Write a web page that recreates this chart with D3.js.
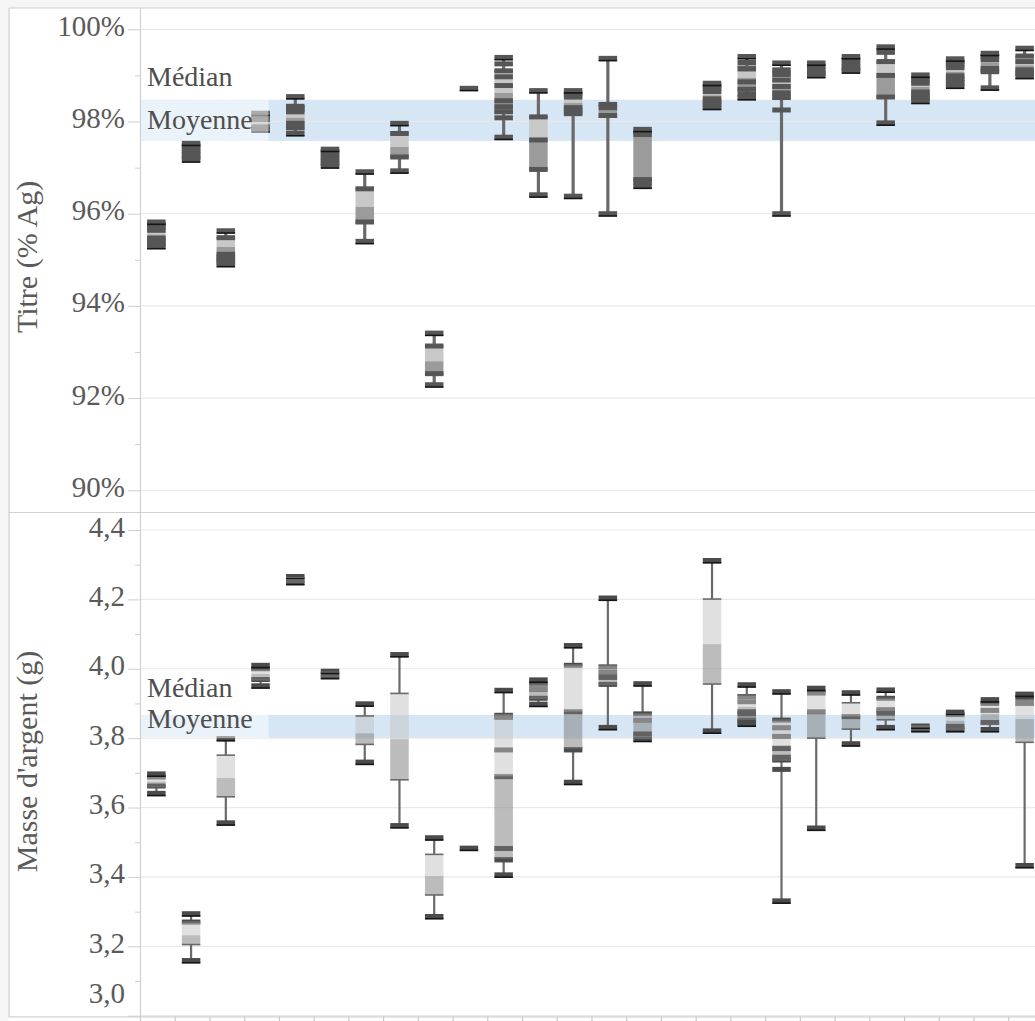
<!DOCTYPE html>
<html><head><meta charset="utf-8">
<script src="https://cdn.jsdelivr.net/npm/d3@7"></script>
<style>
html,body{margin:0;padding:0;background:#f5f5f5;}
svg{display:block;}
text{font-family:"Liberation Serif","Times New Roman",serif;}
</style></head><body>
<svg id="chart" width="1035" height="1021"></svg>
<script>
const categories = ["C1","C2","C3","C4","C5","C6","C7","C8","C9","C10","C11","C12","C13","C14","C15","C16","C17","C18","C19","C20","C21","C22","C23","C24","C25","C26"];

// ---- Titre (% Ag) ----
const titreTicks = [90, 92, 94, 96, 98, 100];
const titreTickLabels = ["90%", "92%", "94%", "96%", "98%", "100%"];
const titreMinorTicks = [91, 93, 95, 97, 99];
const titreBand = [97.58, 98.47];
const titreLow    = [95.26, 97.15, 94.88, 97.78, 97.72, 97.00, 95.40, 96.92, 92.28, 98.72, 97.65, 96.40, 96.38, 96.00, 96.55, null, 98.26, 98.50, 96.00, 98.98, 99.08, 97.97, 98.42, 98.74, 98.72, 98.97];
const titreQ1     = [95.30, 97.20, 95.00, 97.80, 97.85, 97.05, 95.80, 97.22, 92.52, 98.72, 98.20, 96.96, 98.15, 98.10, 96.75, null, 98.28, 98.68, 98.50, 99.03, 99.12, 98.52, 98.48, 98.78, 99.07, 99.05];
const titreMedian = [95.55, 97.35, 95.28, 97.96, 98.08, 97.20, 96.15, 97.45, 92.80, 98.72, 98.62, 97.60, 98.40, 98.25, 97.65, null, 98.57, 98.95, 98.80, 99.15, 99.25, 99.02, 98.75, 99.08, 99.28, 99.22];
const titreQ3     = [95.80, 97.50, 95.48, 98.20, 98.33, 97.38, 96.55, 97.75, 93.13, 98.72, 99.10, 98.10, 98.62, 98.38, 97.76, null, 98.80, 99.20, 99.08, 99.25, 99.38, 99.30, 98.95, 99.30, 99.45, 99.40];
const titreHigh   = [95.84, 97.55, 95.65, 98.21, 98.56, 97.42, 96.93, 97.98, 93.42, 98.72, 99.40, 98.68, 98.68, 99.38, 97.85, null, 98.86, 99.42, 99.28, 99.30, 99.44, 99.63, 99.03, 99.38, 99.50, 99.60];
const titrePoints = [
  [95.82, 95.76, 95.70, 95.64, 95.47, 95.41, 95.35, 95.29],
  [97.53, 97.47, 97.41, 97.35, 97.29, 97.23, 97.17],
  [95.63, 95.48, 95.12, 95.06, 95.00, 94.94, 94.90],
  [98.18, 98.11, 98.04, 97.88, 97.82],
  [98.54, 98.33, 98.27, 98.21, 97.96, 97.86, 97.74],
  [97.40, 97.34, 97.28, 97.22, 97.16, 97.10, 97.04],
  [96.91, 96.54, 95.82, 95.40],
  [97.96, 97.74, 97.23, 96.93],
  [93.41, 93.13, 92.53, 92.29],
  [98.72],
  [99.39, 99.25, 99.10, 98.97, 98.78, 98.45, 98.32, 98.21, 98.08, 97.66],
  [98.67, 98.10, 97.60, 96.96, 96.41],
  [98.67, 98.60, 98.53, 98.30, 98.24, 98.17, 96.38],
  [99.37, 98.37, 98.30, 98.13, 96.00],
  [97.83, 97.77, 97.71, 96.74, 96.68, 96.60],
  [],
  [98.83, 98.77, 98.71, 98.65, 98.49, 98.43, 98.37, 98.31],
  [99.41, 99.28, 99.14, 98.86, 98.70, 98.60, 98.52],
  [99.27, 99.12, 99.02, 98.90, 98.76, 98.62, 98.52, 98.25, 96.00],
  [99.27, 99.20, 99.12, 99.04, 99.00],
  [99.41, 99.34, 99.27, 99.20, 99.13, 99.10],
  [99.62, 99.50, 99.30, 99.00, 98.53, 97.97],
  [99.01, 98.90, 98.83, 98.64, 98.57, 98.50, 98.44],
  [99.36, 99.30, 99.23, 99.17, 98.99, 98.92, 98.85, 98.77],
  [99.48, 99.41, 99.34, 99.15, 99.08, 98.73],
  [99.59, 99.42, 99.30, 99.12, 99.04, 98.98]
];

// ---- Masse d'argent (g) ----
const masseTicks = [3.0, 3.2, 3.4, 3.6, 3.8, 4.0, 4.2, 4.4];
const masseTickLabels = ["3,0", "3,2", "3,4", "3,6", "3,8", "4,0", "4,2", "4,4"];
const masseMinorTicks = [3.1, 3.3, 3.5, 3.7, 3.9, 4.1, 4.3];
const masseBand = [3.80, 3.867];
const masseLow    = [3.640, 3.158, 3.555, 3.950, 4.245, 3.975, 3.730, 3.547, 3.285, 3.483, 3.405, 3.897, 3.672, 3.830, 3.795, null, 3.820, 3.840, 3.330, 3.540, 3.783, 3.830, 3.820, 3.820, 3.822, 3.432];
const masseQ1     = [3.660, 3.205, 3.631, 3.968, 4.250, 3.978, 3.782, 3.680, 3.348, 3.483, 3.455, 3.915, 3.772, 3.955, 3.800, null, 3.956, 3.855, 3.737, 3.800, 3.826, 3.853, 3.825, 3.826, 3.840, 3.788];
const masseMedian = [3.675, 3.232, 3.685, 3.985, 4.255, 3.985, 3.814, 3.797, 3.402, 3.483, 3.689, 3.935, 3.876, 3.985, 3.845, null, 4.071, 3.890, 3.780, 3.870, 3.862, 3.878, 3.830, 3.850, 3.870, 3.855];
const masseQ3     = [3.690, 3.270, 3.751, 3.998, 4.262, 3.990, 3.864, 3.929, 3.465, 3.483, 3.868, 3.955, 4.011, 4.010, 3.870, null, 4.201, 3.924, 3.852, 3.935, 3.902, 3.915, 3.835, 3.870, 3.900, 3.910];
const masseHigh   = [3.700, 3.295, 3.800, 4.012, 4.270, 3.995, 3.900, 4.042, 3.514, 3.483, 3.940, 3.970, 4.068, 4.205, 3.958, null, 4.313, 3.955, 3.935, 3.945, 3.932, 3.940, 3.838, 3.877, 3.912, 3.928];
const massePoints = [
  [3.697, 3.688, 3.662, 3.641],
  [3.294, 3.270, 3.159],
  [3.799, 3.556],
  [4.010, 4.000, 3.969, 3.951],
  [4.266, 4.249],
  [3.993, 3.978],
  [3.899, 3.731],
  [4.041, 3.548],
  [3.513, 3.286],
  [3.483],
  [3.938, 3.866, 3.860, 3.766, 3.689, 3.482, 3.449, 3.406],
  [3.968, 3.955, 3.941, 3.915, 3.898],
  [4.067, 4.010, 3.876, 3.766, 3.673],
  [4.204, 4.005, 3.990, 3.975, 3.955, 3.831],
  [3.957, 3.870, 3.852, 3.812, 3.797],
  [],
  [4.312, 3.821],
  [3.954, 3.920, 3.905, 3.876, 3.870, 3.852, 3.846, 3.841],
  [3.934, 3.852, 3.830, 3.805, 3.770, 3.745, 3.737, 3.710, 3.331],
  [3.944, 3.930, 3.876, 3.541],
  [3.931, 3.862, 3.784],
  [3.939, 3.915, 3.882, 3.872, 3.831],
  [3.835, 3.825],
  [3.875, 3.868, 3.834, 3.825],
  [3.911, 3.900, 3.880, 3.845, 3.825],
  [3.927, 3.918, 3.900, 3.433]
];

// ---------------- drawing ----------------
const W = 1035, H = 1021;
const FS = 29;
const svg = d3.select("#chart");
svg.append("rect").attr("width", W).attr("height", H).attr("fill", "#f5f5f5");
svg.append("rect").attr("x", 9).attr("y", 8).attr("width", W - 9).attr("height", H - 8).attr("fill", "#ffffff");

const step = 34.73;
const x = d3.scaleBand().domain(categories).range([140, 140 + step * categories.length]).padding(0);
const boxW = 18.5;

const panels = [
  { top: 8, bottom: 512, y: d3.scaleLinear().domain([90, 100]).range([490.3, 29.3]),
    ticks: titreTicks, labels: titreTickLabels, minors: titreMinorTicks, title: "Titre (% Ag)",
    band: titreBand, lo: titreLow, q1: titreQ1, med: titreMedian, q3: titreQ3, hi: titreHigh, pts: titrePoints,
    pointsOnTop: true, whiskerW: 3.2, upperFill: "#c8c8c8", lowerFill: "#9b9b9b", upperOp: 1, lowerOp: 1,
    medLabelOff: 14, moyLabelOff: 12 },
  { top: 512, bottom: 1017, y: d3.scaleLinear().domain([3.0, 4.4]).range([1015.7, 530]),
    ticks: masseTicks, labels: masseTickLabels, minors: masseMinorTicks, title: "Masse d'argent (g)",
    band: masseBand, lo: masseLow, q1: masseQ1, med: masseMedian, q3: masseQ3, hi: masseHigh, pts: massePoints,
    pointsOnTop: false, whiskerW: 2.2, upperFill: "#c2c2c2", lowerFill: "#797979", upperOp: 0.5, lowerOp: 0.5,
    medLabelOff: 18, moyLabelOff: 10 }
];

panels.forEach(p => {
  const g = svg.append("g");
  const y = p.y;
  const right = W;

  // reference band
  g.append("rect").attr("x", 140).attr("width", right - 140)
    .attr("y", y(p.band[1])).attr("height", y(p.band[0]) - y(p.band[1]))
    .attr("fill", "#d6e6f4");

  // gridlines
  g.selectAll("line.grid").data(p.ticks).join("line")
    .attr("x1", 141).attr("x2", right)
    .attr("y1", d => y(d)).attr("y2", d => y(d))
    .attr("stroke", "#e9e9e9").attr("stroke-width", 1.2);

  // axis
  const axis = d3.axisLeft(y).tickValues(p.ticks).tickSize(12).tickPadding(3)
    .tickFormat((d, i) => p.labels[i]);
  const ag = g.append("g").attr("transform", "translate(140,0)").call(axis);
  ag.select(".domain").remove();
  ag.selectAll(".tick line").attr("stroke", "#cfcfcf");
  ag.selectAll(".tick text")
    .attr("font-family", "'Liberation Serif', serif").attr("font-size", FS)
    .attr("fill", "#5a5a5a").attr("dy", null)
    .attr("y", d => { const ty = y(d); return (ty + 6 > p.bottom - 12) ? (p.bottom - 15 - ty) : 6; });
  const minorAxis = d3.axisLeft(y).tickValues(p.minors).tickSize(5).tickFormat("");
  const mg = g.append("g").attr("transform", "translate(140,0)").call(minorAxis);
  mg.select(".domain").remove();
  mg.selectAll(".tick line").attr("stroke", "#cfcfcf");

  // axis title
  g.append("text")
    .attr("transform", `translate(37,${(p.top + p.bottom) / 2 - 3}) rotate(-90)`)
    .attr("text-anchor", "middle").attr("font-size", FS + 1).attr("fill", "#5a5a5a")
    .text(p.title);

  // boxes
  const data = categories.map((c, i) => ({
    c, lo: p.lo[i], q1: p.q1[i], med: p.med[i], q3: p.q3[i], hi: p.hi[i], pts: p.pts[i]
  })).filter(d => d.lo !== null);

  const marks = g.append("g");
  data.forEach(d => {
    const cx = x(d.c) + x.bandwidth() / 2 - 1;
    const bx = cx - boxW / 2;
    const mg2 = marks.append("g");
    // whiskers
    mg2.append("line").attr("x1", cx).attr("x2", cx).attr("y1", y(d.hi)).attr("y2", y(d.q3))
      .attr("stroke", "#6a6a6a").attr("stroke-width", p.whiskerW);
    mg2.append("line").attr("x1", cx).attr("x2", cx).attr("y1", y(d.q1)).attr("y2", y(d.lo))
      .attr("stroke", "#6a6a6a").attr("stroke-width", p.whiskerW);

    const drawPoints = () => {
      mg2.selectAll(null).data(d.pts).join("rect")
        .attr("x", bx).attr("width", boxW)
        .attr("y", v => y(v) - 2.5).attr("height", 5)
        .attr("fill", p.pointsOnTop ? "#565656" : "#4b4b4b");
    };
    const drawBox = () => {
      mg2.append("rect").attr("x", bx).attr("width", boxW)
        .attr("y", y(d.q3)).attr("height", Math.max(0, y(d.med) - y(d.q3)))
        .attr("fill", p.upperFill).attr("fill-opacity", p.upperOp);
      mg2.append("rect").attr("x", bx).attr("width", boxW)
        .attr("y", y(d.med)).attr("height", Math.max(0, y(d.q1) - y(d.med)))
        .attr("fill", p.lowerFill).attr("fill-opacity", p.lowerOp);
      if (d.q3 > d.q1) {
        [d.q3, d.q1].forEach(v => {
          mg2.append("line").attr("x1", bx).attr("x2", bx + boxW).attr("y1", y(v)).attr("y2", y(v))
            .attr("stroke", "#6a6a6a").attr("stroke-width", 1.6);
        });
      }
    };
    if (p.pointsOnTop) { drawBox(); drawPoints(); } else { drawPoints(); drawBox(); }

    // dark bottom edge on extreme marks
    const ext = d3.extent(d.pts);
    Array.from(new Set(ext)).forEach(v => {
      mg2.append("rect").attr("x", bx).attr("width", boxW)
        .attr("y", y(v) + 1.5).attr("height", 1.6).attr("fill", "#151515");
    });
  });

  // label background + labels
  g.append("rect").attr("x", 140.5).attr("width", 128)
    .attr("y", y(p.band[1])).attr("height", y(p.band[0]) - y(p.band[1]))
    .attr("fill", "#ffffff").attr("opacity", 0.5);
  g.append("text").attr("x", 147).attr("y", y(p.band[1]) - p.medLabelOff)
    .attr("font-size", 28).attr("fill", "#4e4e4e").text("Médian");
  g.append("text").attr("x", 147).attr("y", y(p.band[0]) - p.moyLabelOff)
    .attr("font-size", 28).attr("fill", "#4e4e4e").text("Moyenne");
});

// frame lines
const frame = svg.append("g").attr("stroke", "#d0d0d0").attr("stroke-width", 1.2);
frame.append("line").attr("x1", 9).attr("x2", W).attr("y1", 8).attr("y2", 8);
frame.append("line").attr("x1", 9).attr("x2", 9).attr("y1", 8).attr("y2", 1017);
frame.append("line").attr("x1", 9).attr("x2", W).attr("y1", 512.5).attr("y2", 512.5);
frame.append("line").attr("x1", 140.5).attr("x2", 140.5).attr("y1", 8).attr("y2", 1017);
frame.append("line").attr("x1", 9).attr("x2", W).attr("y1", 1016.8).attr("y2", 1016.8);

// x-axis ticks at category boundaries
const bounds = categories.map(c => x(c));
svg.append("g").selectAll("line").data(bounds).join("line")
  .attr("x1", d => d + 0.5).attr("x2", d => d + 0.5).attr("y1", 1017).attr("y2", 1021)
  .attr("stroke", "#c8c8c8").attr("stroke-width", 1.2);
</script>
</body></html>
